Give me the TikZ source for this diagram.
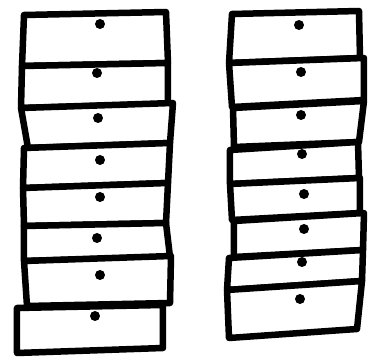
\documentclass[tikz,border=0pt]{standalone}
\begin{document}
\begin{tikzpicture}[x=1pt,y=-1pt,
  drawer/.style={draw=black,line width=6.5pt,line join=round,fill=white},
  knob/.style={fill=black}]
\useasboundingbox (0,0) rectangle (368,358);
% left stack
\draw[drawer] (24,15) -- (166,12) -- (168,63) -- (22,66) -- cycle;
\fill[knob] (100,24) circle (5);
\draw[drawer] (22,66) -- (168,63) -- (168,104) -- (21,108) -- cycle;
\fill[knob] (97,73) circle (5);
\draw[drawer] (21,108) -- (173,103) -- (170,143) -- (28,148) -- cycle;
\fill[knob] (98,118) circle (5);
\draw[drawer] (24,148) -- (170,143) -- (168,183) -- (23,188) -- cycle;
\fill[knob] (100,160) circle (5);
\draw[drawer] (23,188) -- (168,183) -- (166,223) -- (24,226) -- cycle;
\fill[knob] (100,197) circle (5);
\draw[drawer] (24,226) -- (166,223) -- (170,257) -- (24,261) -- cycle;
\fill[knob] (97,238) circle (5);
\draw[drawer] (24,261) -- (171,256) -- (170,303) -- (27,306) -- cycle;
\fill[knob] (100,275) circle (5);
\draw[drawer] (17,308) -- (163,305) -- (163,348) -- (17,353) -- cycle;
\fill[knob] (95,316) circle (5);
% right stack
\draw[drawer] (232,14) -- (359,11) -- (360,58) -- (229,63) -- cycle;
\fill[knob] (299,25) circle (5);
\draw[drawer] (229,63) -- (364,58) -- (364,100) -- (232,107) -- cycle;
\fill[knob] (301,72) circle (5);
\draw[drawer] (233,108) -- (364,101) -- (359,142) -- (234,147) -- cycle;
\fill[knob] (301,115) circle (5);
\draw[drawer] (230,150) -- (358,142) -- (359,178) -- (230,184) -- cycle;
\fill[knob] (302,154) circle (5);
\draw[drawer] (230,184) -- (360,178) -- (360,213) -- (232,220) -- cycle;
\fill[knob] (304,194) circle (5);
\draw[drawer] (234,221) -- (364,213) -- (363,250) -- (234,257) -- cycle;
\fill[knob] (304,229) circle (5);
\draw[drawer] (229,258) -- (363,250) -- (362,281) -- (227,290) -- cycle;
\fill[knob] (302,262) circle (5);
\draw[drawer] (227,290) -- (362,281) -- (357,329) -- (229,338) -- cycle;
\fill[knob] (300,299) circle (5);
\end{tikzpicture}
\end{document}
